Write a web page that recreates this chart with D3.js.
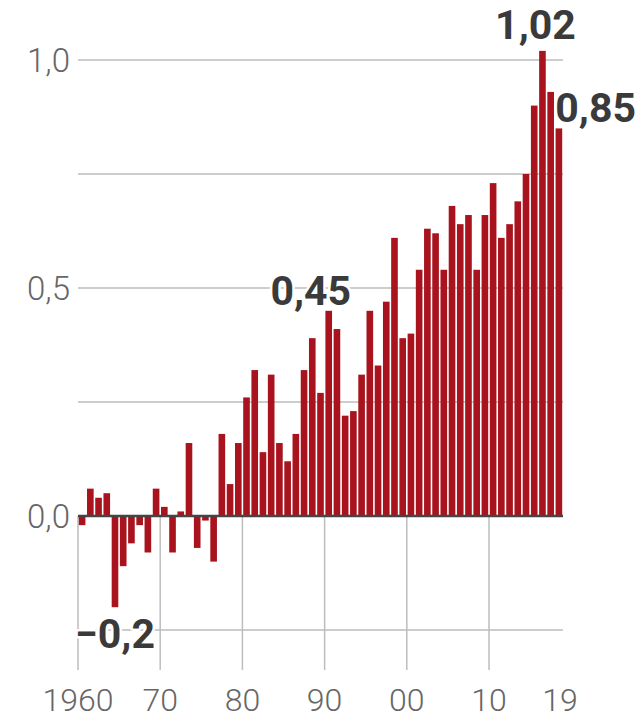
<!DOCTYPE html>
<html>
<head>
<meta charset="utf-8">
<script src="https://cdn.jsdelivr.net/npm/d3@7"></script>
<style>
  html, body { margin: 0; padding: 0; background: #fff; }
  svg { display: block; }
</style>
</head>
<body>
<svg id="chart" width="640" height="719"></svg>
<script>
// ---- data ----
const years = d3.range(1960, 2019);
const anomalies = [
  -0.02, 0.06, 0.04, 0.05, -0.20, -0.11, -0.06, -0.02, -0.08, 0.06,
   0.02, -0.08, 0.01, 0.16, -0.07, -0.01, -0.10, 0.18, 0.07, 0.16,
   0.26, 0.32, 0.14, 0.31, 0.16, 0.12, 0.18, 0.32, 0.39, 0.27,
   0.45, 0.41, 0.22, 0.23, 0.31, 0.45, 0.33, 0.47, 0.61, 0.39,
   0.40, 0.54, 0.63, 0.62, 0.54, 0.68, 0.64, 0.66, 0.54, 0.66,
   0.73, 0.61, 0.64, 0.69, 0.75, 0.90, 1.02, 0.93, 0.85
];
const yTickValues = [1.0, 0.5, 0.0];
const yGridValues = [1.0, 0.75, 0.5, 0.25, -0.25];
const xTickValues = [1960, 1970, 1980, 1990, 2000, 2010];
const xTickLabels = ["1960", "70", "80", "90", "00", "10"];
const xEndLabel = "19";
const labelledYears = [1964, 1990, 2016, 2018];

const data = years.map((y, i) => ({ year: y, value: anomalies[i] }));

// ---- scales ----
const svg = d3.select("#chart");
const x = d3.scaleLinear().domain([1960, 2019]).range([78, 563]);
const y = d3.scaleLinear().domain([-0.25, 1.0]).range([630, 60]);
const step = x(1961) - x(1960);
const pad = 0.8;

const loc = d3.formatLocale({ decimal: ",", thousands: ".", grouping: [3], currency: ["", "€"], minus: "\u2212" });
const fmtAxis = loc.format(".1f");
const fmtLabel = loc.format(".2~f");

const grid = "#bdbdbd";

// horizontal grid lines
svg.append("g").selectAll("line").data(yGridValues).join("line")
  .attr("x1", x(1960)).attr("x2", x(2019))
  .attr("y1", d => y(d)).attr("y2", d => y(d))
  .attr("stroke", grid).attr("stroke-width", 1.5);

// vertical tick lines below baseline
svg.append("g").selectAll("line").data(xTickValues).join("line")
  .attr("x1", d => x(d)).attr("x2", d => x(d))
  .attr("y1", y(0)).attr("y2", 670)
  .attr("stroke", grid).attr("stroke-width", 1.5);

// bars
svg.append("g").selectAll("rect").data(data).join("rect")
  .attr("x", d => x(d.year) + pad)
  .attr("width", step - 2 * pad)
  .attr("y", d => Math.min(y(d.value), y(0)))
  .attr("height", d => Math.abs(y(d.value) - y(0)))
  .attr("fill", "#a8131d");

// baseline
svg.append("line")
  .attr("x1", x(1960)).attr("x2", x(2019))
  .attr("y1", y(0)).attr("y2", y(0))
  .attr("stroke", "#444").attr("stroke-width", 2.5);

// y axis labels
svg.append("g").selectAll("text").data(yTickValues).join("text")
  .attr("x", 70).attr("y", d => y(d)).attr("dy", "0.35em")
  .attr("text-anchor", "end")
  .attr("font-family", "Roboto, 'Open Sans', sans-serif")
  .attr("font-weight", 300).attr("font-size", 33)
  .attr("fill", "#666")
  .text(d => fmtAxis(d));

// x axis labels
svg.append("g").selectAll("text").data(xTickValues).join("text")
  .attr("x", d => x(d)).attr("y", 711)
  .attr("text-anchor", "middle")
  .attr("font-family", "Roboto, 'Open Sans', sans-serif")
  .attr("font-weight", 300).attr("font-size", 32)
  .attr("fill", "#666")
  .text((d, i) => xTickLabels[i]);

svg.append("text")
  .attr("x", x(2019) - 3).attr("y", 711)
  .attr("text-anchor", "middle")
  .attr("font-family", "Roboto, 'Open Sans', sans-serif")
  .attr("font-weight", 300).attr("font-size", 32)
  .attr("fill", "#666")
  .text(xEndLabel);

// value labels
const labelPlacement = {
  1964: { anchor: "middle", dx: step / 2, dy: 41 },
  1990: { anchor: "middle", dx: step / 2 - 18, dy: -6 },
  2016: { anchor: "middle", dx: step / 2 - 7, dy: -12 },
  2018: { anchor: "start", dx: 0.5, dy: -6 }
};
const labelled = data.filter(d => labelledYears.includes(d.year));
svg.append("g").selectAll("text").data(labelled).join("text")
  .attr("x", d => x(d.year) + labelPlacement[d.year].dx)
  .attr("y", d => y(d.value) + labelPlacement[d.year].dy)
  .attr("text-anchor", d => labelPlacement[d.year].anchor)
  .attr("font-family", "Roboto, 'Open Sans', sans-serif")
  .attr("font-weight", 700).attr("font-size", 41)
  .attr("fill", "#3a3a3a")
  .attr("stroke", "#fff").attr("stroke-width", 5)
  .attr("stroke-linejoin", "round")
  .attr("paint-order", "stroke")
  .text(d => fmtLabel(d.value));
</script>
</body>
</html>
